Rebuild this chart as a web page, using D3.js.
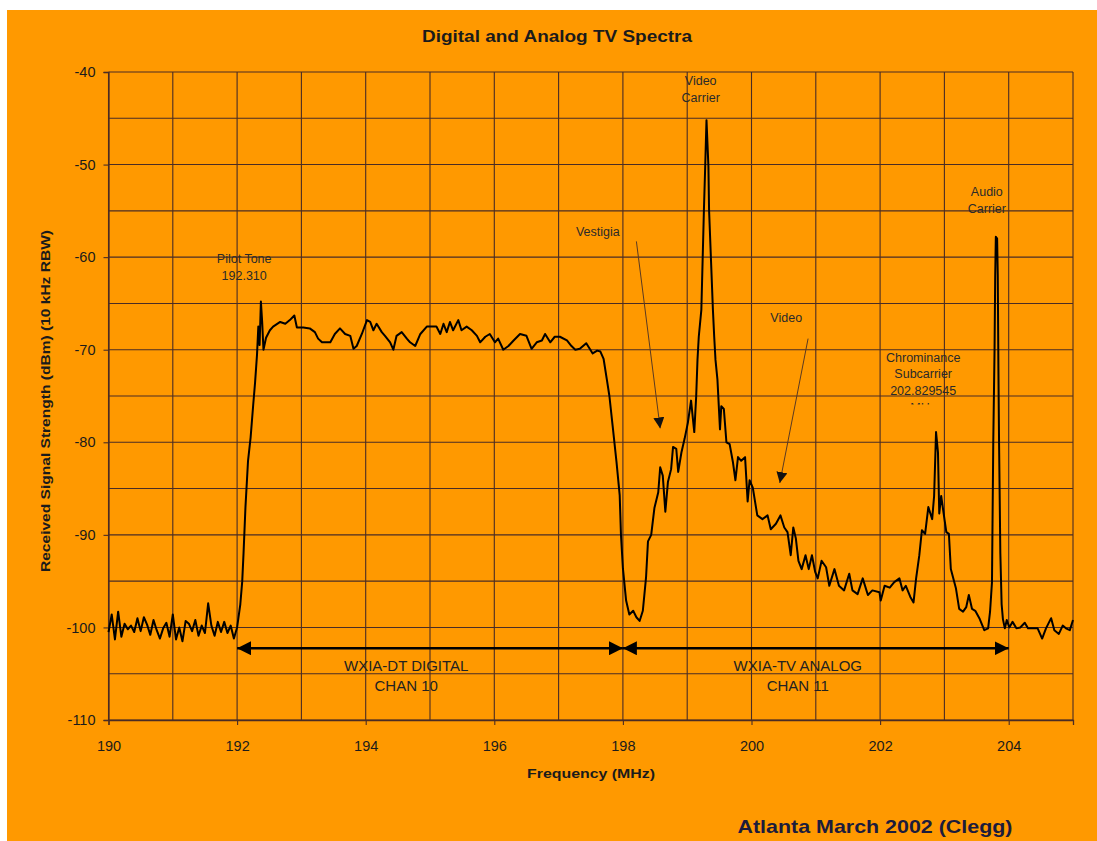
<!DOCTYPE html>
<html>
<head>
<meta charset="utf-8">
<script src="https://cdn.jsdelivr.net/npm/d3@7"></script>
<style>
  html, body { margin: 0; padding: 0; background: #ffffff; }
  svg { display: block; font-family: "Liberation Sans", Arial, Helvetica, sans-serif; }
</style>
</head>
<body>
<svg id="chart" width="1097" height="841"></svg>
<script>
// ---- Spectrum trace, split by band: [frequency MHz, level dBm] ----
const noiseBelow = [
  [190.00,-100.5],[190.05,-98.6],[190.10,-101.3],[190.15,-98.3],[190.20,-101.0],[190.25,-99.6],
  [190.30,-100.2],[190.35,-99.8],[190.40,-100.5],[190.45,-99.0],[190.50,-100.4],[190.55,-98.9],
  [190.60,-99.7],[190.65,-100.8],[190.70,-99.2],[190.75,-100.3],[190.80,-101.2],[190.85,-100.1],
  [190.90,-99.5],[190.95,-101.0],[191.00,-98.6],[191.05,-101.3],[191.10,-100.0],[191.15,-101.5],
  [191.20,-99.3],[191.25,-99.6],[191.30,-100.4],[191.35,-99.2],[191.40,-100.9],[191.45,-99.8],
  [191.50,-100.6],[191.55,-97.4],[191.60,-99.8],[191.65,-100.9],[191.70,-99.4],[191.75,-100.5],
  [191.80,-99.4],[191.85,-100.6],[191.90,-99.8],[191.95,-101.2],[192.00,-100.0]
];

const digitalChannel = [
  [192.02,-99.0],[192.05,-97.5],[192.08,-95.0],[192.10,-92.0],[192.13,-87.0],[192.17,-82.0],
  [192.21,-79.5],[192.25,-76.0],[192.28,-73.5],[192.31,-70.5],[192.33,-67.5],[192.35,-69.5],
  [192.37,-64.8],[192.39,-67.0],[192.41,-70.0],[192.45,-68.7],[192.51,-67.9],[192.56,-67.5],
  [192.67,-67.0],[192.75,-67.2],[192.82,-66.8],[192.89,-66.3],[192.93,-67.6],[193.03,-67.6],
  [193.13,-67.7],[193.21,-68.1],[193.26,-68.8],[193.32,-69.2],[193.45,-69.2],[193.52,-68.3],
  [193.60,-67.7],[193.68,-68.3],[193.76,-68.5],[193.81,-69.9],[193.86,-69.6],[193.94,-68.3],
  [194.02,-66.8],[194.07,-67.0],[194.12,-67.9],[194.17,-67.2],[194.25,-68.1],[194.30,-68.5],
  [194.38,-69.2],[194.43,-70.0],[194.48,-68.5],[194.56,-68.1],[194.64,-68.8],[194.69,-69.2],
  [194.77,-69.6],[194.85,-68.3],[194.95,-67.5],[195.10,-67.5],[195.16,-68.3],[195.21,-67.2],
  [195.26,-68.1],[195.31,-67.0],[195.36,-67.9],[195.44,-66.8],[195.49,-67.9],[195.57,-67.5],
  [195.65,-67.9],[195.73,-68.5],[195.78,-69.2],[195.86,-68.6],[195.93,-68.3],[196.01,-69.2],
  [196.06,-68.8],[196.14,-70.0],[196.22,-69.6],[196.30,-69.0],[196.40,-68.3],[196.50,-68.5],
  [196.58,-69.9],[196.66,-69.2],[196.74,-69.0],[196.79,-68.3],[196.87,-69.2],[196.94,-68.6],
  [197.02,-68.6],[197.13,-69.0],[197.20,-69.6],[197.26,-70.0],[197.33,-69.9],[197.43,-69.3],
  [197.53,-70.4],[197.60,-70.1],[197.65,-70.2],[197.70,-71.0],[197.75,-73.2],[197.79,-75.0],
  [197.84,-78.2],[197.90,-82.1],[197.95,-85.7],[197.97,-90.0]
];

const analogChannel = [
  [198.00,-93.6],[198.05,-97.1],[198.10,-98.6],[198.16,-98.2],[198.21,-98.9],[198.26,-99.3],
  [198.31,-98.2],[198.36,-94.6],[198.39,-90.7],[198.44,-90.0],[198.49,-87.1],[198.55,-85.4],
  [198.58,-82.7],[198.62,-83.6],[198.66,-87.5],[198.70,-84.3],[198.75,-82.9],[198.78,-80.5],
  [198.83,-80.7],[198.86,-83.2],[198.91,-81.1],[198.96,-79.6],[199.01,-77.9],[199.06,-75.5],
  [199.11,-78.9],[199.14,-75.0],[199.16,-71.1],[199.18,-68.6],[199.22,-65.7],[199.24,-60.3],
  [199.26,-54.9],[199.28,-50.2],[199.30,-45.2],[199.33,-50.2],[199.34,-54.9],[199.37,-60.3],
  [199.40,-65.7],[199.42,-68.6],[199.44,-71.1],[199.47,-73.2],[199.51,-78.6],[199.53,-76.1],
  [199.57,-76.4],[199.61,-80.0],[199.66,-80.2],[199.71,-82.1],[199.75,-84.1],[199.79,-81.6],
  [199.84,-82.0],[199.90,-81.6],[199.94,-86.4],[199.97,-84.1],[200.02,-84.9],[200.09,-87.9],
  [200.17,-88.3],[200.25,-87.9],[200.30,-89.4],[200.38,-88.8],[200.45,-87.9],[200.51,-89.2],
  [200.56,-89.7],[200.61,-92.2],[200.65,-89.2],[200.69,-90.4],[200.73,-92.8],[200.78,-93.7],
  [200.84,-92.2],[200.89,-93.7],[200.94,-92.2],[200.99,-94.0],[201.03,-94.7],[201.09,-92.8],
  [201.16,-93.5],[201.21,-95.5],[201.29,-93.7],[201.36,-95.5],[201.44,-96.0],[201.52,-94.2],
  [201.57,-96.0],[201.65,-96.4],[201.73,-94.7],[201.81,-96.5],[201.88,-96.0],[201.99,-96.2],
  [202.01,-97.1],[202.07,-95.5],[202.15,-95.7],[202.22,-95.1],[202.30,-94.7],[202.35,-96.0],
  [202.40,-95.5],[202.47,-96.7],[202.52,-97.3],[202.56,-94.7],[202.61,-92.2],[202.65,-89.5],
  [202.70,-89.9],[202.75,-87.0],[202.81,-88.3],[202.84,-85.8],[202.87,-78.9],[202.90,-81.1],
  [202.92,-87.7],[202.95,-85.8],[202.97,-86.8],[203.03,-89.7],[203.07,-89.9],[203.10,-93.7],
  [203.18,-95.8],[203.23,-98.0],[203.29,-98.3],[203.34,-97.8],[203.38,-96.5],[203.43,-98.0],
  [203.48,-98.2],[203.55,-99.1],[203.62,-100.3],[203.68,-100.1],[203.71,-98.3],[203.74,-95.1],
  [203.76,-80.0],[203.78,-70.0],[203.79,-62.0],[203.80,-57.8],[203.82,-58.0],[203.83,-62.0],
  [203.84,-72.0],[203.85,-80.0],[203.87,-92.0],[203.89,-97.5],[203.91,-99.1]
];

const noiseAbove = [
  [203.94,-100.1],[203.97,-99.2],[204.01,-100.0],[204.06,-99.4],[204.12,-100.1],[204.18,-100.0],
  [204.25,-99.5],[204.30,-100.1],[204.38,-100.1],[204.45,-100.1],[204.52,-101.2],[204.58,-100.1],
  [204.66,-99.0],[204.71,-100.3],[204.78,-100.7],[204.84,-99.8],[204.89,-100.1],[204.95,-100.3],
  [205.00,-99.2]
];

// ---- Axis ticks ----
const freqTicks = [190, 192, 194, 196, 198, 200, 202, 204];
const levelTicks = [-40, -50, -60, -70, -80, -90, -100, -110];

// ---- Channel spans (MHz) and their labels ----
const channelSpans = [
  { from: 192, to: 198, labelAt: 194.63, lines: ["WXIA-DT DIGITAL", "CHAN 10"] },
  { from: 198, to: 204, labelAt: 200.72, lines: ["WXIA-TV ANALOG", "CHAN 11"] }
];

// ---- Text notes (anchor in MHz / dBm) ----
const notes = [
  { f: 192.11, db: -60.2, lines: ["Pilot Tone", "192.310"] },
  { f: 199.21, db: -40.9, lines: ["Video", "Carrier"] },
  { f: 197.61, db: -57.2, lines: ["Vestigia"] },
  { f: 200.54, db: -66.5, lines: ["Video"] },
  { f: 202.67, db: -70.8, lines: ["Chrominance", "Subcarrier", "202.829545"] },
  { f: 203.66, db: -52.9, lines: ["Audio", "Carrier"] }
];

// ---- Pointer arrows for the notes ----
const pointers = [
  { from: [198.21, -58.3], to: [198.58, -78.5] },
  { from: [200.88, -68.8], to: [200.44, -84.4] }
];

// ---- Chart ----
const svg = d3.select("#chart");
const W = 1097, H = 841;
const plot = { left: 108.5, right: 1073, top: 72, bottom: 720 };

const x = d3.scaleLinear().domain([190, 205]).range([plot.left, plot.right]);
const y = d3.scaleLinear().domain([-110, -40]).range([plot.bottom, plot.top]);

const ORANGE = "#ff9900";
const GRID = "#4a2c24";
const INK = "#1b1b1b";

// background panel (thin white margin at top and left)
svg.append("rect").attr("x", 7).attr("y", 10).attr("width", W - 7).attr("height", H - 10).attr("fill", ORANGE);

// markers
const defs = svg.append("defs");
defs.append("marker")
  .attr("id", "spanHead").attr("markerUnits", "userSpaceOnUse")
  .attr("viewBox", "0 0 14 14").attr("refX", 14).attr("refY", 7)
  .attr("markerWidth", 14).attr("markerHeight", 14).attr("orient", "auto-start-reverse")
  .append("path").attr("d", "M0,0 L14,7 L0,14 Z").attr("fill", "#000");
defs.append("marker")
  .attr("id", "noteHead").attr("markerUnits", "userSpaceOnUse")
  .attr("viewBox", "0 0 11 11").attr("refX", 11).attr("refY", 5.5)
  .attr("markerWidth", 11).attr("markerHeight", 11).attr("orient", "auto")
  .append("path").attr("d", "M0,0 L11,5.5 L0,11 Z").attr("fill", "#111");

// grid
const grid = svg.append("g").attr("stroke", GRID).attr("stroke-width", 1.1);
grid.selectAll("line.v").data(d3.range(190, 206, 1)).join("line")
  .attr("class", "v")
  .attr("x1", d => x(d)).attr("x2", d => x(d))
  .attr("y1", y(-40)).attr("y2", y(-110));
grid.selectAll("line.h").data(d3.range(-110, -39, 5)).join("line")
  .attr("class", "h")
  .attr("x1", x(190)).attr("x2", x(205))
  .attr("y1", d => y(d)).attr("y2", d => y(d));

// axes
const xAxis = svg.append("g")
  .attr("transform", `translate(0,${plot.bottom})`)
  .call(d3.axisBottom(x).tickValues(freqTicks).tickSize(5).tickPadding(16).tickFormat(d => String(d)));
const yAxis = svg.append("g")
  .attr("transform", `translate(${plot.left},0)`)
  .call(d3.axisLeft(y).tickValues(levelTicks).tickSize(5).tickPadding(8).tickFormat(d => String(d)));
[xAxis, yAxis].forEach(g => {
  g.select(".domain").attr("stroke", GRID).attr("stroke-width", 1.3);
  g.selectAll(".tick line").attr("stroke", GRID).attr("stroke-width", 1.1);
  g.selectAll(".tick text").attr("fill", INK).style("font-size", "14.5px")
    .style("font-family", "'Liberation Sans', Arial, sans-serif");
});

// spectrum trace
const trace = [...noiseBelow, ...digitalChannel, ...analogChannel, ...noiseAbove];
svg.append("path")
  .datum(trace)
  .attr("fill", "none")
  .attr("stroke", "#000")
  .attr("stroke-width", 2)
  .attr("stroke-linejoin", "round")
  .attr("d", d3.line().x(d => x(d[0])).y(d => y(d[1])));

// channel span arrows
const spanLevel = -102.25;
svg.append("g").selectAll("line").data(channelSpans).join("line")
  .attr("x1", d => x(d.from)).attr("x2", d => x(d.to))
  .attr("y1", y(spanLevel)).attr("y2", y(spanLevel))
  .attr("stroke", "#000").attr("stroke-width", 2.5)
  .attr("marker-start", "url(#spanHead)").attr("marker-end", "url(#spanHead)");

const spanText = svg.append("g").attr("fill", "#222").attr("font-size", 15).attr("text-anchor", "middle");
channelSpans.forEach(s => {
  s.lines.forEach((t, i) => {
    spanText.append("text")
      .attr("x", x(s.labelAt))
      .attr("y", y(spanLevel) + 23 + i * 20)
      .text(t);
  });
});

// note pointers
svg.append("g").selectAll("line").data(pointers).join("line")
  .attr("x1", d => x(d.from[0])).attr("y1", d => y(d.from[1]))
  .attr("x2", d => x(d.to[0])).attr("y2", d => y(d.to[1]))
  .attr("stroke", "#5a3a22").attr("stroke-width", 1)
  .attr("marker-end", "url(#noteHead)");

// note text
const noteText = svg.append("g").attr("fill", "#2a2a2a").attr("font-size", 12.5).attr("text-anchor", "middle");
notes.forEach(n => {
  n.lines.forEach((t, i) => {
    noteText.append("text")
      .attr("x", x(n.f)).attr("y", y(n.db) + 4.5 + i * 16.8)
      .text(t);
  });
});
// unit line below the chrominance value, cut off by its text box
const chroma = notes[4];
const unitBase = y(chroma.db) + 4.5 + 3 * 16.8;
defs.append("clipPath").attr("id", "chromaBox")
  .append("rect").attr("x", x(chroma.f) - 50).attr("y", unitBase - 14)
  .attr("width", 100).attr("height", 6.5);
noteText.append("text")
  .attr("clip-path", "url(#chromaBox)")
  .attr("x", x(chroma.f)).attr("y", unitBase)
  .text("MHz");

// titles (the source layout is slightly wide, so lengths are pinned)
svg.append("text").attr("x", 557).attr("y", 42).attr("text-anchor", "middle")
  .attr("font-size", 16).attr("font-weight", "bold").attr("fill", INK)
  .attr("textLength", 270).attr("lengthAdjust", "spacingAndGlyphs")
  .text("Digital and Analog TV Spectra");
svg.append("text").attr("x", 591).attr("y", 778).attr("text-anchor", "middle")
  .attr("font-size", 13.5).attr("font-weight", "bold").attr("fill", INK)
  .attr("textLength", 128).attr("lengthAdjust", "spacingAndGlyphs")
  .text("Frequency (MHz)");
svg.append("text").attr("transform", "translate(50,401) rotate(-90)").attr("text-anchor", "middle")
  .attr("font-size", 13.5).attr("font-weight", "bold").attr("fill", INK)
  .attr("textLength", 342).attr("lengthAdjust", "spacingAndGlyphs")
  .text("Received Signal Strength (dBm) (10 kHz RBW)");
svg.append("text").attr("x", 875).attr("y", 833).attr("text-anchor", "middle")
  .attr("font-size", 19).attr("font-weight", "bold").attr("fill", "#1c1c3c")
  .attr("textLength", 275).attr("lengthAdjust", "spacingAndGlyphs")
  .text("Atlanta March 2002 (Clegg)");
</script>
</body>
</html>
